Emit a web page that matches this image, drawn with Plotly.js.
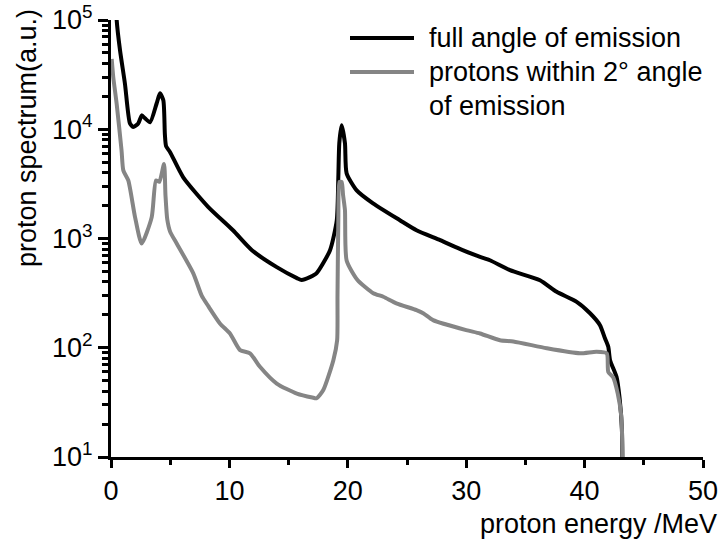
<!DOCTYPE html>
<html>
<head>
<meta charset="utf-8">
<script src="https://cdn.plot.ly/plotly-3.0.1.min.js"></script>
<style>html,body{margin:0;padding:0;background:#fff;}#chart{width:724px;height:546px;}</style>
</head>
<body>
<div id="chart"></div>
<script>
// Full angle of emission (energy in MeV, spectrum in a.u.)
const fullX = [0.45, 0.48, 0.76, 1.18, 1.6, 1.88, 2.3, 2.6, 2.87, 3.3, 3.86, 4.14, 4.42, 4.55, 4.65, 4.98, 6.1, 8.2, 10.3, 11.9, 14.0, 15.7, 16.1, 16.8, 17.37, 18.5, 19.07, 19.2, 19.28, 19.48, 19.76, 19.9, 20.75, 22.13, 24.4, 25.8, 27.8, 29.7, 31.17, 32.0, 33.7, 36.23, 37.64, 39.33, 40.46, 41.3, 41.72, 42.0, 42.15, 42.7, 42.95, 43.15, 43.2];
const fullY = [130000, 100000, 53000, 26000, 11300, 10500, 11300, 13400, 12600, 11600, 17300, 21300, 18400, 9000, 7000, 6200, 3630, 1950, 1190, 782, 547, 434, 417, 443, 482, 782, 1470, 3660, 7430, 10860, 7430, 3950, 2760, 2100, 1470, 1190, 965, 782, 679, 632, 513, 415, 325, 263, 207, 161, 122, 102, 77, 54, 35, 18, 5];

// Protons within 2 degree angle of emission
const narrowX = [0.06, 0.19, 0.48, 0.89, 1.04, 1.46, 2.03, 2.59, 3.44, 3.8, 4.08, 4.48, 4.6, 4.75, 5.0, 5.55, 6.95, 7.66, 8.22, 9.2, 10.05, 10.9, 11.74, 12.58, 14.0, 15.7, 17.0, 17.37, 17.93, 18.78, 19.1, 19.13, 19.2, 19.3, 19.48, 19.6, 19.76, 19.9, 20.8, 22.15, 23.0, 24.1, 25.8, 26.4, 27.2, 30.0, 31.17, 32.85, 33.98, 36.8, 39.6, 41.0, 41.87, 42.0, 42.4, 42.8, 43.1, 43.2, 43.2];
const narrowY = [44000, 30000, 17000, 6400, 4200, 3400, 1570, 900, 1570, 3400, 3300, 4800, 2500, 1500, 1150, 900, 480, 300, 240, 167, 135, 95, 89, 67, 47, 38, 35, 34.5, 41, 77, 117, 300, 1500, 3300, 3290, 2500, 1820, 630, 420, 316, 293, 255, 221, 206, 179, 145, 135, 117, 114, 99, 89, 92, 89, 60, 54, 38, 23.5, 10, 5];

const seriesNames = ["full angle of emission", "protons within 2° angle", "of emission"];
const xTicks = [0, 10, 20, 30, 40, 50];
const xMinorTicks = [5, 15, 25, 35, 45];
const yTicks = [10, 100, 1000, 10000, 100000];
const yTickText = ["10<sup>1</sup>", "10<sup>2</sup>", "10<sup>3</sup>", "10<sup>4</sup>", "10<sup>5</sup>"];
const xTitle = "proton energy /MeV";
const yTitle = "proton spectrum(a.u.)";

const yMinor = [];
for (let d = 1; d <= 4; d++) for (let k = 2; k <= 9; k++) yMinor.push(k * Math.pow(10, d));

const FONT = "Liberation Sans, Arial, sans-serif";
const BLACK = "#000000";
const GREY = "#858585";

const traces = [
  {x: fullX, y: fullY, type: "scatter", mode: "lines", name: seriesNames[0],
   line: {color: BLACK, width: 4, shape: "spline", smoothing: 0.6}, showlegend: false, hoverinfo: "skip"},
  {x: narrowX, y: narrowY, type: "scatter", mode: "lines", name: seriesNames[1] + " " + seriesNames[2],
   line: {color: GREY, width: 4, shape: "spline", smoothing: 0.6}, showlegend: false, hoverinfo: "skip"}
];

// plot area in pixels: x 111..703, y 20..457
const L = 111, R = 703, T = 20, B = 457;
const px = v => (v - L) / (R - L);
const py = v => 1 - (v - T) / (B - T);

const layout = {
  width: 724, height: 546,
  margin: {l: L, r: 724 - R, t: T, b: 546 - B, pad: 0},
  paper_bgcolor: "#fff", plot_bgcolor: "#fff",
  font: {family: FONT, size: 27, color: BLACK},
  xaxis: {
    range: [0, 50], tickmode: "array", tickvals: xTicks,
    ticks: "outside", ticklen: 8, tickwidth: 3, tickcolor: BLACK,
    showline: true, linewidth: 3, linecolor: BLACK,
    showgrid: false, zeroline: false, mirror: false,
    tickfont: {size: 27},
    minor: {tickmode: "array", tickvals: xMinorTicks, ticks: "outside", ticklen: 5, tickwidth: 3, tickcolor: BLACK, showgrid: false}
  },
  yaxis: {
    type: "log", range: [1, 5], tickmode: "array", tickvals: yTicks, ticktext: yTickText,
    ticks: "outside", ticklen: 10, tickwidth: 3, tickcolor: BLACK,
    showline: true, linewidth: 3, linecolor: BLACK,
    showgrid: false, zeroline: false, mirror: false,
    tickfont: {size: 27},
    minor: {tickmode: "array", tickvals: yMinor, ticks: "outside", ticklen: 6, tickwidth: 3, tickcolor: BLACK, showgrid: false}
  },
  shapes: [
    {type: "line", xref: "paper", yref: "paper", x0: px(350), x1: px(414), y0: py(38), y1: py(38), line: {color: BLACK, width: 4}},
    {type: "line", xref: "paper", yref: "paper", x0: px(350), x1: px(414), y0: py(72), y1: py(72), line: {color: GREY, width: 4}}
  ],
  annotations: [
    {xref: "paper", yref: "paper", x: px(427), y: py(38), xanchor: "left", yanchor: "middle", text: seriesNames[0], showarrow: false, font: {size: 27}},
    {xref: "paper", yref: "paper", x: px(427), y: py(72), xanchor: "left", yanchor: "middle", text: seriesNames[1], showarrow: false, font: {size: 27}},
    {xref: "paper", yref: "paper", x: px(427), y: py(106), xanchor: "left", yanchor: "middle", text: seriesNames[2], showarrow: false, font: {size: 27}},
    {xref: "paper", yref: "paper", x: px(719), y: py(524), xanchor: "right", yanchor: "middle", text: xTitle, showarrow: false, font: {size: 27}},
    {xref: "paper", yref: "paper", x: px(27), y: py(138), xanchor: "center", yanchor: "middle", textangle: -90, text: yTitle, showarrow: false, font: {size: 27}}
  ]
};

Plotly.newPlot("chart", traces, layout, {staticPlot: true, displayModeBar: false});
</script>
</body>
</html>
